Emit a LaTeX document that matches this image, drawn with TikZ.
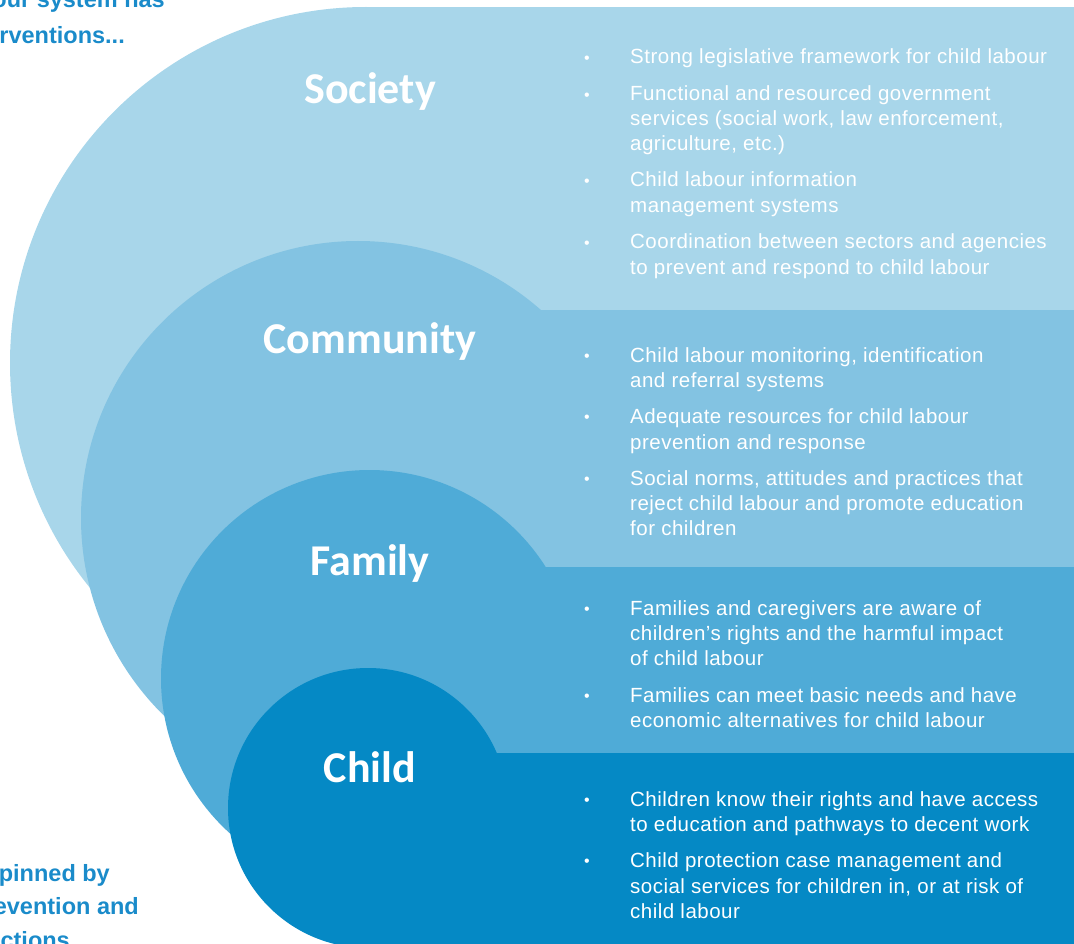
\documentclass[tikz,border=0pt]{standalone}
\usepackage{fontspec}
\setmainfont{Liberation Sans}
\newfontfamily\titlefont{Carlito}
\newfontfamily\itemfont[LetterSpace=2.4]{Liberation Sans}
\definecolor{socC}{HTML}{A8D6EA}
\definecolor{comC}{HTML}{83C3E2}
\definecolor{famC}{HTML}{4FABD7}
\definecolor{chiC}{HTML}{0589C5}
\definecolor{headC}{HTML}{1A8BCA}
\tikzset{
  layer/.style={fill=#1, draw=none},
  ttl/.style={text=white, inner sep=0pt, font=\titlefont\bfseries\fontsize{44}{50}\selectfont},
  itm/.style={text=white, inner sep=0pt, anchor=base west, font=\itemfont\fontsize{20.5}{25}\selectfont},
  blt/.style={text=white, inner sep=0pt, anchor=center, font=\fontsize{16}{17}\selectfont},
  side/.style={text=headC, inner sep=0pt, anchor=base east, font=\bfseries\fontsize{23.5}{27}\selectfont},
}
\begin{document}
\begin{tikzpicture}[x=1pt,y=-1pt]
\useasboundingbox (0,0) rectangle (1074,944);
\clip (0,0) rectangle (1074,944);
% layers
\fill[layer=socC] (366,363) circle[radius=356pt];
\fill[layer=socC] (366,7) rectangle (1090,960);
\fill[layer=comC] (358,518) circle[radius=277pt];
\fill[layer=comC] (358,310) rectangle (1090,960);
\fill[layer=famC] (369.5,678.5) circle[radius=208.5pt];
\fill[layer=famC] (369.5,566.5) rectangle (1090,960);
\fill[layer=chiC] (368,808) circle[radius=140pt];
\fill[layer=chiC] (368,753) rectangle (1090,960);
% side texts
\node[side] (s1) at (165,8) {our system has};
\node[side] (s2) at (125,44) {rventions...};
\node[side] (s3) at (110,881) {pinned by};
\node[side] (s4) at (139,914) {evention and};
\node[side] (s5) at (70,948) {ctions};
% titles
\node[ttl] (tsoc) at (370,92) {Society};
\node[ttl] (tcom) at (370,342) {Community};
\node[ttl] (tfam) at (370,564) {Family};
\node[ttl] (tchi) at (370,767) {Child};
% bullets
\foreach \n/\y in {b1/60,b2/97,b3/183,b4/245,b5/358,b6/419,b7/481,b8/611,b9/698,b10/802,b11/863}
  \node[blt] (\n) at (587,\y) {•};
% Society items
\node[itm] (i1a) at (630,64) {Strong legislative framework for child labour};
\node[itm] (i2a) at (630,101) {Functional and resourced government};
\node[itm] (i2b) at (630,126) {services (social work, law enforcement,};
\node[itm] (i2c) at (630,151) {agriculture, etc.)};
\node[itm] (i3a) at (630,187) {Child labour information};
\node[itm] (i3b) at (630,213) {management systems};
\node[itm] (i4a) at (630,249) {Coordination between sectors and agencies};
\node[itm] (i4b) at (630,274) {to prevent and respond to child labour};
% Community items
\node[itm] (i5a) at (630,362) {Child labour monitoring, identification};
\node[itm] (i5b) at (630,387) {and referral systems};
\node[itm] (i6a) at (630,423) {Adequate resources for child labour};
\node[itm] (i6b) at (630,449) {prevention and response};
\node[itm] (i7a) at (630,485) {Social norms, attitudes and practices that};
\node[itm] (i7b) at (630,510) {reject child labour and promote education};
\node[itm] (i7c) at (630,535) {for children};
% Family items
\node[itm] (i8a) at (630,615) {Families and caregivers are aware of};
\node[itm] (i8b) at (630,640) {children’s rights and the harmful impact};
\node[itm] (i8c) at (630,665) {of child labour};
\node[itm] (i9a) at (630,702) {Families can meet basic needs and have};
\node[itm] (i9b) at (630,727) {economic alternatives for child labour};
% Child items
\node[itm] (i10a) at (630,806) {Children know their rights and have access};
\node[itm] (i10b) at (630,831) {to education and pathways to decent work};
\node[itm] (i11a) at (630,867) {Child protection case management and};
\node[itm] (i11b) at (630,893) {social services for children in, or at risk of};
\node[itm] (i11c) at (630,918) {child labour};
\end{tikzpicture}
\end{document}
